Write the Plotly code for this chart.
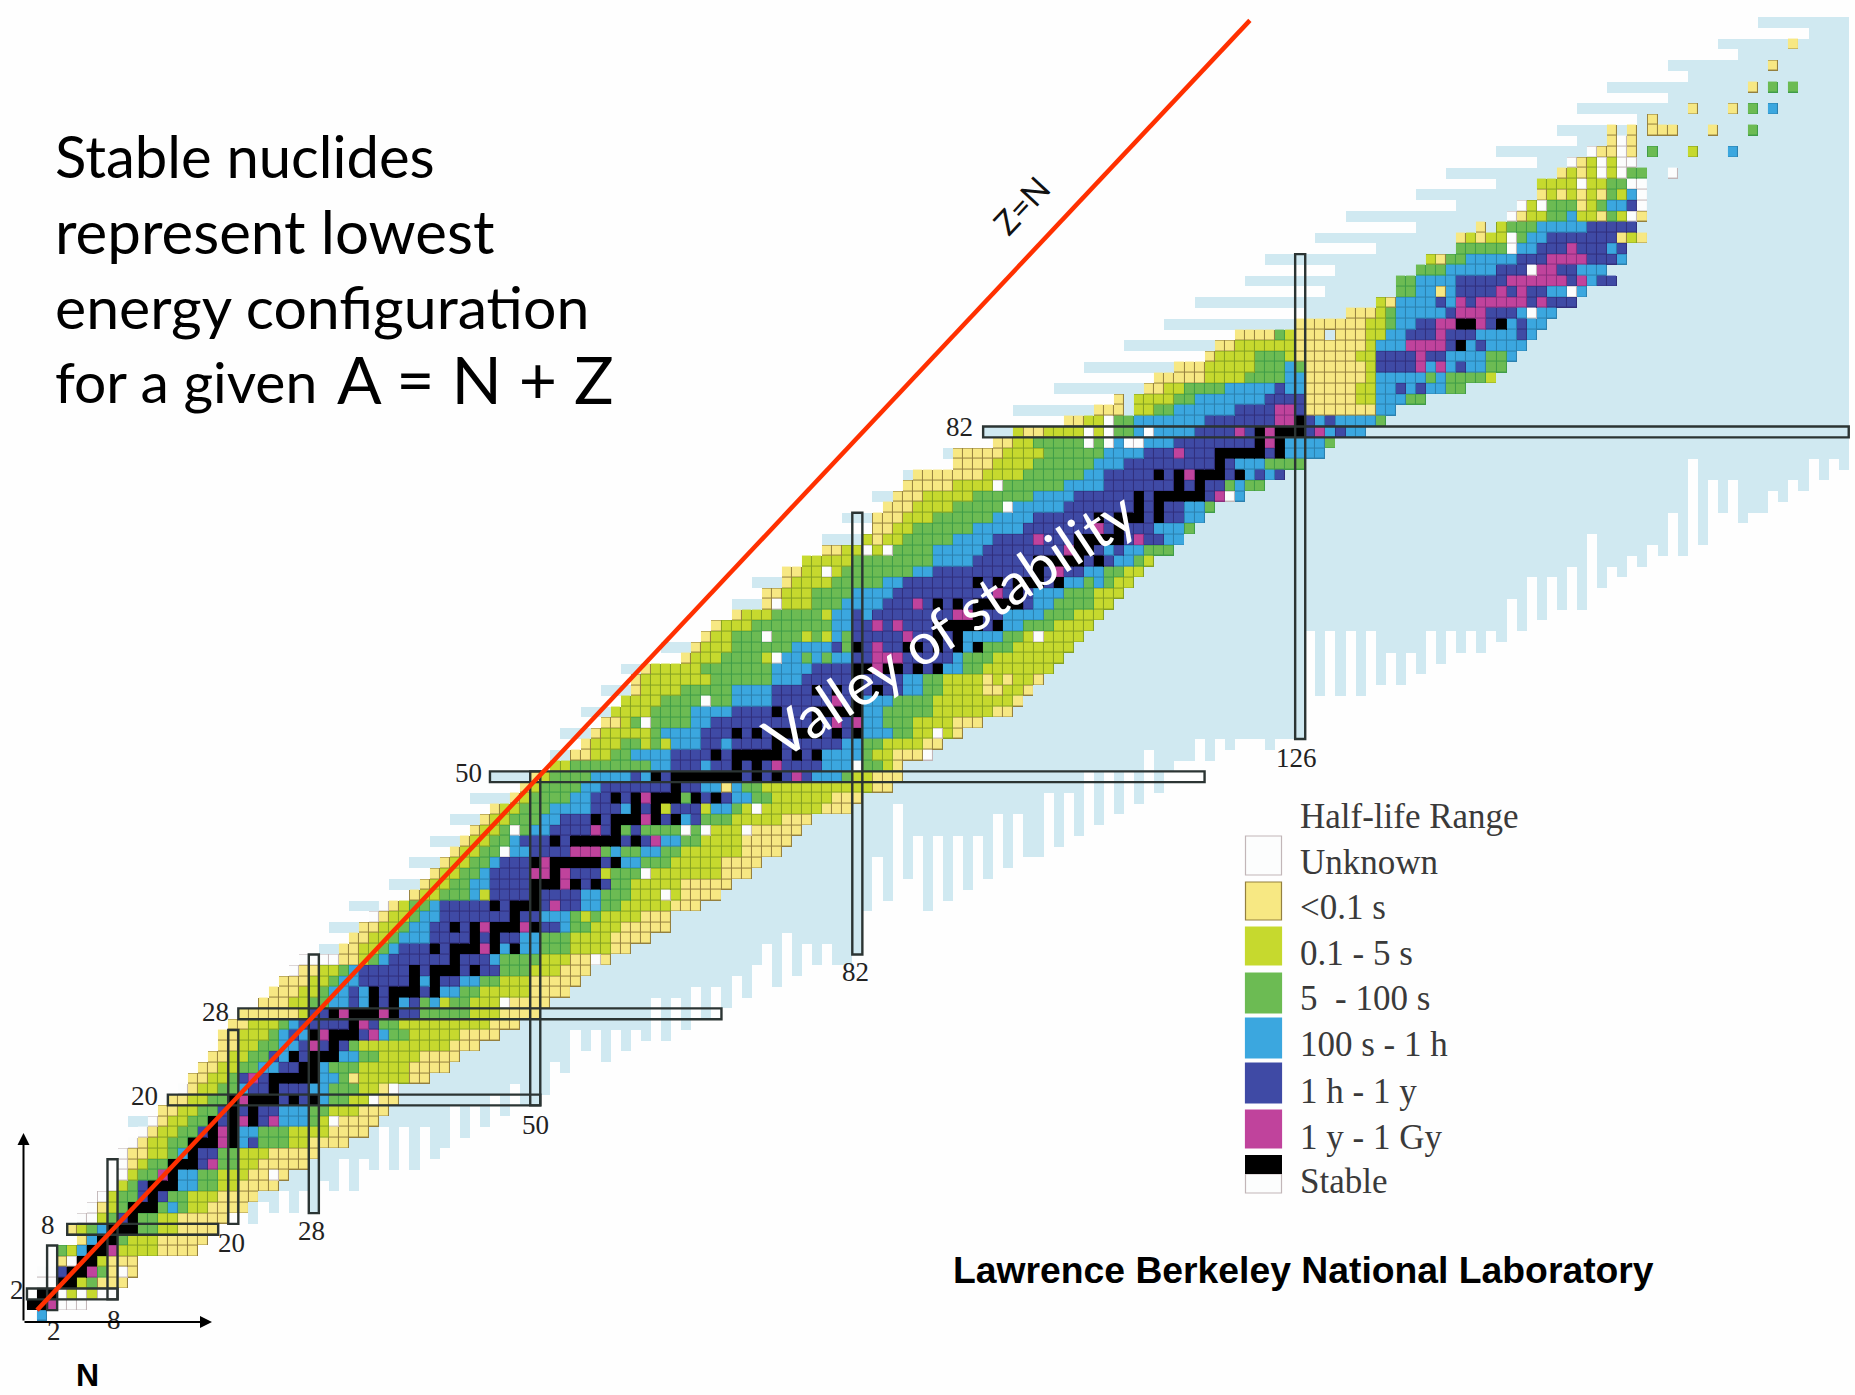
import re
import numpy as np
import plotly.graph_objects as go

# ---------- half-life bands, one row per proton number Z (token "14y" = from N=14 on, colour y)
BAND_ROWS = [
"1b 2.", "3u 6.", "3u 4l 5u 6l 7u 9.", "1u 3i 5l 6g 7y 10.", "1u 3i 7g 8y 9u 10y 11.",
"3y 4u 5i 7l 8y 11.", "3g 4l 5b 6i 9l 13y 17.", "5y 6b 7i 9g 10l 13y 18.", "4y 5l 6g 7b 8i 11g 13l 15y 19.",
"5u 7l 8g 9i 11g 13l 15y 20.", "6u 7y 8l 9g 10i 13g 14b 15g 16l 18y 22.", "7u 8l 9g 11i 14g 16l 19y 23.",
"8u 9l 10g 11i 15b 17g 19l 21y 25.", "9u 10l 11g 13i 15b 17g 19l 22y 26.", "9u 10y 11l 12g 14i 19g 21l 23y 28.",
"9u 10y 12l 14g 15b 16i 19g 21l 24y 29.", "10u 11y 12l 14g 16i 21b 22i 23g 26l 28y 32.",
"11u 12y 13l 15g 17i 21b 23g 26l 30y 34.", "12u 13y 14l 16g 18i 25b 28g 29l 31y 35.",
"13y 15l 17g 19i 25b 28g 30l 33y 36.", "14y 16l 18g 20i 29b 30g 32l 34y 37.",
"15u 16y 17l 19g 21b 22i 28b 30g 33l 35y 36u 37.", "16y 18l 20g 21i 29b 31g 32y 33l 38y 40.",
"17y 19l 21g 23b 25i 29b 30g 33l 38y 42.", "18y 20l 22g 24i 25b 26i 31b 33g 35l 39y 43.",
"19y 21l 23g 25b 27i 32g 33l 42y 45.", "19y 21l 24g 25b 26i 27b 28i 35b 36g 38l 43y 47.",
"20y 22l 25g 26b 27i 35g 37l 46y 49.", "21y 27l 28i 39g 44l 47y 51.",
"23y 26l 28g 30b 32i 33b 34i 37b 38i 39g 40b 41l 42g 44l 48y 52.", "24y 27l 29g 30b 32i 33b 34i 41b 43g 45l 50y 54.",
"25y 28l 30g 31b 33i 39b 40i 43b 45g 47l 50y 55.", "26u 27y 29l 31g 32b 33i 47g 50l 53y 56.",
"27u 31y 33l 34g 35b 36i 46b 47g 51l 54y 58.", "31y 33l 35g 36b 37i 47b 48i 49b 51g 54l 58y 60.",
"32y 34l 36g 37b 40i 49b 51g 54l 58y 62.", "33y 35l 37g 38b 40i 53b 54g 56l 59y 64.",
"34u 35y 36l 38g 39b 41i 51b 54g 55l 56g 57l 61y 64.", "35u 36y 37l 38g 40b 41i 55b 57g 59l 64y 67.",
"38y 39l 41g 44b 45l 46i 55b 57g 60l 65y 69.", "39y 40l 42g 44b 46i 58g 60l 65y 70.",
"40y 41l 43g 45b 46i 57l 58g 61l 69y 72.", "41y 42l 44g 46b 47i 59b 61g 64l 69y 73.",
"42y 43l 45g 48b 50i 57g 58b 59g 61b 63g 65l 71y 75.", "43y 44l 46g 48b 49i 63b 65g 67l 71y 76.",
"44y 45l 47g 50b 52i 59g 60i 61g 67l 71y 77.", "45y 46l 48g 51b 53i 65b 66i 67g 70l 75y 78.",
"46y 47l 49g 52b 56i 59b 60i 63l 64i 67l 68b 70g 71l 79y 82.", "48y 49l 50g 54b 56i 65g 66i 70b 72g 74l 80y 83.",
"49y 50l 51g 55b 57i 67b 69y 70b 71g 73l 84y 86.", "50y 51l 52g 56b 60i 61b 62i 78b 81g 82l 84y 87.",
"52l 54g 62b 64i 67b 68i 79b 82u 83g 85l 86y 87.", "54y 56l 58g 60b 64i 79b 83g 84l 86y 90.",
"55y 56l 59g 61l 62g 63l 64b 67i 69b 70i 81b 83g 85l 89y 91.", "56y 57l 62g 63b 67i 83b 86g 88l 92y 93.",
"57y 59l 60g 66b 68i 83b 85g 88l 92y 95.", "58l 62g 66b 70i 83b 85g 90l 96y 98.",
"59l 63g 70b 74i 83b 86g 90l 98y 99.", "60y 61l 65g 70b 74i 87b 89g 91l 95y 97l 99y 100.",
"60y 61l 68g 74b 77i 87b 89g 91l 95y 96l 97y 98l 100y 101.", "61y 62l 67g 74b 78i 91b 93g 95l 102.",
"65y 66l 69g 73l 74u 75b 77g 78b 79g 80b 82i 92b 93g 96l 103.", "66y 67l 70g 76b 80i 81g 82i 93b 94g 98l 104.",
"67y 68l 70g 73u 74g 77l 78g 79l 80b 81g 82i 93b 97g 99l 105.", "68y 69l 72g 80b 82i 97b 99g 102l 106.",
"70y 71l 74g 79l 80b 82i 83b 84i 97b 101g 104l 107.", "73y 74u 75l 78g 81b 85i 100b 102g 106l 108.",
"73y 75l 78g 82b 86i 100b 103g 106l 109.", "75y 76l 80g 85b 87i 103b 105g 106b 107g 108l 110.",
"75y 77l 81g 88b 90i 105b 107g 109l 111.", "77l 82g 90b 94i 108b 110g 111l 112.",
"79y 81l 86g 90b 95i 107b 108i 109b 111g 114.", "83l 84y 85l 87g 92b 96i 113b 115.",
"84y 86l 88g 94b 99i 112b 115g 116.", "84y 87l 90g 96b 100i 115b 117.", "85y 88l 92g 97u 98b 103i 115b 117g 118.",
"86y 89l 94g 100b 104i 119u 120b 121.", "87y 92l 97g 103b 107i 119g 120b 121g 123.",
"88y 95l 99g 105b 107i 121b 122i 123b 124i 125.", "92y 96l 100g 106b 109i 120b 123g 127.",
"92y 97l 101g 107b 111i 125b 129.", "96y 98l 100g 107b 114i 125b 129g 130.",
"98l 99y 101l 105u 106l 107u 108g 110b 111u 112b 116i 129b 130i 131b 133.",
"103y 105l 107u 108g 110b 112b 117i 128b 129i 130b 134g 135.", "106y 109. 110l 112g 114b 120i 127y 134b 136.",
"108y 109. 110l 114g 116b 123i 127y 132l 134b 137g 139.",
"111y 113l 115g 119b 124i 125b 127y 132l 134b 136i 137b 138i 139b 141g 143.",
"112y 117l 121g 125b 127y 133l 134b 139g 140b 141g 145l 146.",
"114y 117l 122g 125b 126g 127y 133l 134i 139b 140i 141b 142i 143b 145g 147.",
"117y 118l 122g 125l 126y 132l 134i 141b 145g 147b 148.",
"118y 120l 126y 133l 134b 137m 141i 143b 144i 145b 149.",
"120y 124g 125l 126y 129c 130y 133l 135b 137i 140m 141i 144b 148i 149b 150.",
"126y 133l 135g 136b 138i 140m 144m 145i 147b 148i 149b 151.",
"131y 134l 135g 136b 141i 142m 145i 148b 149u 150b 152.",
"134l 135y 136b 140i 141b 142m 143i 144m 149i 150m 151i 154.",
"136g 138b 140y 141b 142i 146m 147i 148m 149i 151b 153u 154b 155.",
"136g 138b 142i 147m 153i 154m 155b 156i 158.",
"138g 141b 146i 149u 150m 152i 154b 157.",
"139l 140y 141g 143b 148i 151m 155i 158b 159.",
"142g 147u 148b 150i 153m 154i 157b 158i 159.",
"142y 143l 144y 145l 147u 148g 149b 151i 158y 159l 160y 161.",
"144y 145. 146l 147g 150b 155i 160.",
"147u 148y 149l 151g 153b 154l 156y 157g 158l 159u 160y 161.",
"148u 149l 150u 151g 154y 155l 156g 157b 159i 160u 161.",
"150y 151l 152y 153l 154y 155l 156y 157g 158l 159b 160u 161.",
"150l 154u 155l 157g 159u 161.",
"152y 153l 154y 155l 156u 157l 158u 159g 161. 163u 164.",
"153u 154y 155l 156u 157l 158u 160.",
"155u 156y 158u 159y 160. 161g 162. 165l 166. 169b 170.",
"157y 158u 159y 160.",
"157y 158. 159y 160. 161y 164. 167y 168. 171g 172.",
"161y 162.",
"165y 166. 169y 170. 171g 172. 173b 174.",
"", "171y 172. 173g 174. 175g 176.", "", "173y 174.", "", "175y 176.",
]

# stable nuclides: neutron numbers per Z
STABLE_N = [
[], [0,1], [1,2], [3,4], [4,5], [5,6], [6,7], [7,8], [8,9,10], [10], [10,11,12], [12], [12,13,14], [14], [14,15,16],
[16], [16,17,18,20], [18,20], [18,20,22], [20,22], [20,22,23,24,26,28], [24], [24,25,26,27,28], [27,28], [26,28,29,30],
[30], [28,30,31,32], [32], [30,32,33,34,36], [34,36], [34,36,37,38,40], [38,40], [38,40,41,42,44], [42], [40,42,43,44,46,48],
[44,46], [42,44,46,47,48,50], [48], [46,48,49,50], [50], [50,51,52,54,56], [52], [50,52,53,54,55,56,58], [], [52,54,55,56,57,58,60],
[58], [56,58,59,60,62,64], [60,62], [58,60,62,63,64,66,68], [64], [62,64,65,66,67,68,69,70,72,74], [70,72], [68,70,71,72,73,74,76,78],
[74], [70,72,74,75,76,77,78,80,82], [78], [74,78,79,80,81,82], [82], [78,80,82,84], [82], [82,83,85,86,88,90], [], [82,87,88,90,92,94],
[90,92], [90,91,92,93,94,96], [94], [90,92,94,95,96,97,98], [98], [94,96,98,99,100,102], [100], [100,101,102,103,104,106], [104,105],
[104,105,106,107,108], [108], [106,108,109,110,112], [110,112], [110,112,113,114,115,116], [114,116], [112,114,116,117,118,120], [118],
[118,119,120,121,122,124], [122,124], [122,124,125,126], [126], [], [], [], [], [], [], [142], [], [142,143,146],
]

# 1 y - 1 Gy cells as (Z, N) pairs
LONG_LIVED_Z = [1,4,6,13,14,16,17,18,18,20,22,25,26,26,27,28,28,34,36,36,38,40,41,41,41,42,43,43,43,45,46,48,44,50,51,55,55,57,60,61,61,61,62,62,63,63,64,64,65,65,66,67,69,71,72,72,72,73,76,78,80,81,82,82,82,83,83,84,84,88,88,89]
LONG_LIVED_N = [2,6,8,13,18,19,19,21,24,21,22,28,29,34,33,31,35,45,45,49,52,53,50,51,53,51,54,55,56,56,61,61,62,76,74,80,82,80,84,84,85,86,84,88,87,92,84,86,92,93,88,96,102,103,100,110,110,106,118,115,114,123,120,123,128,124,125,124,125,138,140,138]

# unknown-half-life specks inside the bands, as (Z, N) pairs
SPECK_Z = [13,18,20,29,33,39,41,43,45,45,45,45,47,52,54,55,57,63,69,71,71,77,81,81,81,81]
SPECK_N = [24,30,34,47,56,63,61,47,48,65,67,71,72,89,90,61,67,100,79,83,85,96,105,107,109,110]

# theoretical (light blue) region
LIGHT_LEFT_Z = [18,34,36,38,40,42,44,46,48,50,52,54,56,58,60,62,64,66,68,70,72,74,76,78,80,82,84,86,88,90,92,93,94,95,96,97,98,99,100,101,102,103,104,105,106,107,108,109,110,111,112,113,114,115,116,117,118,119,120]
LIGHT_LEFT_N = [10,29,30,32,36,38,40,42,44,46,52,53,55,57,59,63,68,70,72,77,79,81,84,87,91,95,98,102,105,109,113,127,116,129,121,130,123,134,128,138,131,142,138,146,141,150,146,154,152,160,154,163,157,165,163,170,168,177,172]
LIGHT_BOTTOM = [15]*22 + [
 9,11,10,12,10,12,10,13,12,15,12,15,14,18,14,18,14,18,15,16,20,17,20,18,21,19,22,20,20,21,24,23,27,25,27,24,27,25,27,26,30,26,30,27,31,28,31,29,32,30,33,
 35,31,36,32,35,33,35,33,33,34,38,43,39,48,41,45,38,45,39,45,40,45,41,47,42,47,43,43,49,44,49,45,51,46,51,47,51,48,53,49,51,52,52,54,52,54,53,54,54,54,53,54,54,54,64,
 58,64,58,64,58,64,59,62,59,62,60,64,61,64,62,64,62,64,63,67,64,69,65,69,66,70,66,73,68,70,69,71,70,72,71,75,71,80,72,78,75,78,74,75,75,77,76,78,77,80,78,80,79]

# magic-number frames: row (Z, first N, last N) and column (N, first Z, last Z)
MAGIC_ROW_Z = [2,8,20,28,50,82]
MAGIC_ROW_FROM = [-0.5,3.5,13.5,20.5,45.5,94.5]
MAGIC_ROW_TO = [8.5,18.5,50.5,68.5,116.5,180.5]
MAGIC_COL_N = [2,8,20,28,50,82,126]
MAGIC_COL_FROM = [0.5,1.5,8.5,9.5,19.5,33.5,53.5]
MAGIC_COL_TO = [6.5,14.5,26.5,33.5,50.5,74.5,98.5]

ZN_LINE_N = [0.5,121]
ZN_LINE_Z = [0.5,120.2]

LEGEND_LABELS = ["Unknown","<0.1 s","0.1 - 5 s","5  - 100 s","100 s - 1 h","1 h - 1 y","1 y - 1 Gy","Stable"]
CODES = "uylgbimk"
FILL = ["#fcfdfd","#f7e883","#c6d92e","#6cbb53","#3ba7df","#3f4aa5","#c0439c","#000000"]
EDGE = ["#c2b6b8","#94803f","#84a023","#3f9c48","#2c80ae","#312f7c","#8b2f7e","#000000"]
LIGHT = "#d0e9f1"
BG = "#fefefe"

# pixel frame of the page
W, H = 1855, 1395
X0, DX = 32.0, 10.065
Y0, DY = 1315.5, 10.775

Ns = list(range(-1, 183))
Zs = list(range(-1, 123))
grid = np.full((len(Zs), len(Ns)), np.nan)
light = np.full((len(Zs), len(Ns)), np.nan)
iN = lambda n: n + 1
iZ = lambda z: z + 1

first = {}
for z, row in enumerate(BAND_ROWS):
    toks = re.findall(r"(\d+)([a-z.])", row)
    for k, (a, c) in enumerate(toks[:-1]):
        a = int(a); b = int(toks[k + 1][0])
        first.setdefault(z, a)
        if c in CODES:
            grid[iZ(z), iN(a):iN(b)] = CODES.index(c)
        elif c == "c":
            light[iZ(z), iN(a):iN(b)] = 1
for z, n in zip(LONG_LIVED_Z, LONG_LIVED_N):
    grid[iZ(z), iN(n)] = 6
for z, ns in enumerate(STABLE_N):
    for n in ns:
        grid[iZ(z), iN(n)] = 7
for z, n in zip(SPECK_Z, SPECK_N):
    grid[iZ(z), iN(n)] = 0

left = dict(first)
left.update(dict(zip(LIGHT_LEFT_Z, LIGHT_LEFT_N)))
for z, lo in left.items():
    for n in range(lo, 181):
        if n < len(LIGHT_BOTTOM) and z >= LIGHT_BOTTOM[n]:
            light[iZ(z), iN(n)] = 1


def scale(cols):
    k = len(cols)
    out = []
    for i, c in enumerate(cols):
        out += [[i / k, c], [(i + 1) / k, c]]
    return out


fig = go.Figure()
fig.add_trace(go.Heatmap(x=Ns, y=Zs, z=light, zmin=0, zmax=1, showscale=False, hoverinfo="skip",
                         colorscale=[[0, LIGHT], [1, LIGHT]]))
fig.add_trace(go.Heatmap(x=Ns, y=Zs, z=grid, zmin=-0.5, zmax=7.5, showscale=False, hoverinfo="skip",
                         colorscale=scale(EDGE)))
fig.add_trace(go.Heatmap(x=Ns, y=Zs, z=grid, zmin=-0.5, zmax=7.5, showscale=False, hoverinfo="skip",
                         colorscale=scale(FILL), xgap=1, ygap=1))

shapes = []
FRAME = dict(color="#2b3433", width=2.4)
for z, a, b in zip(MAGIC_ROW_Z, MAGIC_ROW_FROM, MAGIC_ROW_TO):
    shapes.append(dict(type="rect", xref="x", yref="y", x0=a, x1=b, y0=z - .5, y1=z + .5, line=FRAME))
for n, a, b in zip(MAGIC_COL_N, MAGIC_COL_FROM, MAGIC_COL_TO):
    shapes.append(dict(type="rect", xref="x", yref="y", x0=n - .5, x1=n + .5, y0=a, y1=b, line=FRAME))
shapes.append(dict(type="line", xref="x", yref="y", x0=ZN_LINE_N[0], x1=ZN_LINE_N[1],
                   y0=ZN_LINE_Z[0], y1=ZN_LINE_Z[1], line=dict(color="#ff3000", width=4.5)))


def px(x):
    return x / W


def py(y):
    return 1 - y / H


# legend swatches
SWATCH_TOP = [836, 882, 927, 973, 1018, 1063, 1110]
SWATCH_BOT = [875, 920, 965, 1013, 1058, 1103, 1148]
for t, b, f, e in zip(SWATCH_TOP, SWATCH_BOT, FILL, EDGE):
    shapes.append(dict(type="rect", xref="paper", yref="paper", x0=px(1245.5), x1=px(1281.5), y0=py(b), y1=py(t),
                       fillcolor=f, line=dict(color=e if f in (FILL[0], FILL[1]) else f, width=1.2)))
shapes.append(dict(type="rect", xref="paper", yref="paper", x0=px(1245.5), x1=px(1281.5), y0=py(1193), y1=py(1174),
                   fillcolor=FILL[0], line=dict(color=EDGE[0], width=1.2)))
shapes.append(dict(type="rect", xref="paper", yref="paper", x0=px(1245), x1=px(1282), y0=py(1174), y1=py(1155),
                   fillcolor="#000", line=dict(color="#000", width=0)))

ann = []


def text(x, y, s, size, fam="Lato", col="#000", anchor="left", angle=0, bold=False):
    if bold:
        s = "<b>" + s + "</b>"
    ann.append(dict(xref="paper", yref="paper", x=px(x), y=py(y), text=s, showarrow=False, xanchor=anchor,
                    yanchor="middle", textangle=angle, font=dict(family=fam, size=size, color=col)))


text(53, 155, "Stable nuclides", 58)
text(53, 231, "represent lowest", 60)
text(53, 306, "energy configuration", 59)
text(53, 381, "for a given", 57)
text(335, 378, "A = N + Z", 66)
text(1021, 205, "Z=N", 33, angle=-47, anchor="center", col="#111")
text(949, 624, "Valley of stability", 58, angle=-33.5, anchor="center", col="#ffffff")
text(1303, 1270, "Lawrence Berkeley National Laboratory", 37.3, fam="Liberation Sans", anchor="center", bold=True)
text(87, 1375, "N", 32, fam="Liberation Sans", anchor="center", bold=True)

SERIF = "Liberation Serif"
text(1298, 817, "Half-life Range", 35, fam=SERIF, col="#3a3a3a")
LEG_Y = [862, 908, 953, 998, 1044, 1091, 1137, 1181]
for y, s in zip(LEG_Y, LEGEND_LABELS):
    text(1298, y, s.replace("<", "&lt;"), 35, fam=SERIF, col="#3a3a3a")

NUM_LABELS = ["82", "50", "28", "20", "8", "2", "2", "8", "20", "28", "50", "82", "126"]
NUM_X = [959, 468, 215, 144, 48, 17, 54, 114, 231, 311, 535, 855, 1296]
NUM_Y = [427, 773, 1012, 1096, 1225, 1290, 1331, 1320, 1243, 1231, 1125, 972, 758]
for x, y, s in zip(NUM_X, NUM_Y, NUM_LABELS):
    text(x, y, s, 27, fam=SERIF, col="#222", anchor="center")

# axis arrows
ann.append(dict(xref="paper", yref="paper", axref="pixel", ayref="pixel", x=px(23.5), y=py(1133), ax=0, ay=189,
                showarrow=True, arrowhead=2, arrowsize=1.2, arrowwidth=2, arrowcolor="#000", text=""))
ann.append(dict(xref="paper", yref="paper", axref="pixel", ayref="pixel", x=px(212), y=py(1322), ax=-189, ay=0,
                showarrow=True, arrowhead=2, arrowsize=1.2, arrowwidth=2, arrowcolor="#000", text=""))

fig.update_layout(
    width=W, height=H, margin=dict(l=0, r=0, t=0, b=0, autoexpand=False), paper_bgcolor=BG, plot_bgcolor=BG,
    xaxis=dict(visible=False, range=[(0 - X0) / DX, (W - X0) / DX], fixedrange=True),
    yaxis=dict(visible=False, range=[(Y0 - H) / DY, Y0 / DY], fixedrange=True),
    shapes=shapes, annotations=ann, showlegend=False,
)
fig.write_html("out.html", config={"displayModeBar": False},
               post_script="document.body.style.margin='0';document.body.style.background='%s';" % BG)
